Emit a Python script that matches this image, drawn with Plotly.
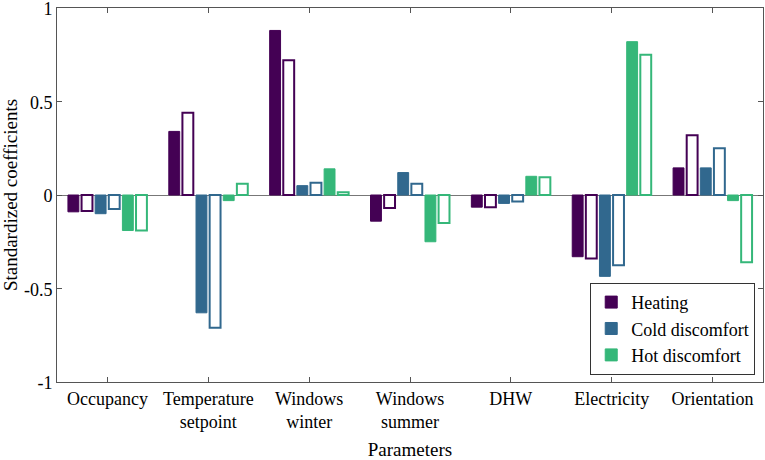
import plotly.graph_objects as go

# Parameters on the x axis
categories = ["Occupancy", "Temperature<br>setpoint", "Windows<br>winter",
              "Windows<br>summer", "DHW", "Electricity", "Orientation"]

# Standardized coefficients (filled = first model, hollow = second model)
heating = [-0.09, 0.34, 0.88, -0.14, -0.065, -0.33, 0.145]
heating_2 = [-0.085, 0.44, 0.72, -0.07, -0.065, -0.34, 0.32]
cold = [-0.10, -0.63, 0.05, 0.12, -0.045, -0.435, 0.145]
cold_2 = [-0.075, -0.71, 0.065, 0.06, -0.035, -0.375, 0.25]
hot = [-0.19, -0.03, 0.14, -0.25, 0.10, 0.82, -0.03]
hot_2 = [-0.19, 0.06, 0.015, -0.15, 0.095, 0.75, -0.36]

purple = '#440154'
blue = '#31688e'
green = '#35b779'

x_pos = list(range(1, len(categories) + 1))

fig = go.Figure()

series = [
    ("Heating", heating, purple, True),
    ("Heating", heating_2, purple, False),
    ("Cold discomfort", cold, blue, True),
    ("Cold discomfort", cold_2, blue, False),
    ("Hot discomfort", hot, green, True),
    ("Hot discomfort", hot_2, green, False),
]

for name, vals, col, filled in series:
    fig.add_trace(go.Bar(
        x=x_pos,
        y=vals,
        name=name,
        showlegend=filled,
        marker=dict(
            color=col if filled else 'white',
            line=dict(color=col, width=1 if filled else 2),
        ),
    ))

serif = "Liberation Serif, Times New Roman, DejaVu Serif, serif"

fig.update_layout(
    width=765,
    height=460,
    barmode='group',
    bargap=0.19,
    bargroupgap=0.2,
    plot_bgcolor='white',
    paper_bgcolor='white',
    # axis titles inherit this one
    font=dict(family=serif, size=16, color='black'),
    margin=dict(l=57, r=2, t=8, b=78),
    xaxis=dict(
        tickvals=x_pos,
        ticktext=categories,
        range=[0.5, 7.5],
        ticks='inside',
        ticklen=5,
        tickcolor='#555555',
        tickfont=dict(family=serif, size=18),
        showline=True,
        linecolor='#555555',
        linewidth=1,
        mirror='ticks',
        showgrid=False,
        zeroline=False,
        automargin=False,
        title=dict(text='Parameters', standoff=26),
    ),
    yaxis=dict(
        range=[-1, 1],
        tickvals=[-1, -0.5, 0, 0.5, 1],
        ticktext=['-1', '-0.5', '0', '0.5', '1'],
        ticks='inside',
        ticklen=5,
        tickcolor='#555555',
        tickfont=dict(family=serif, size=18),
        ticklabeloverflow='allow',
        ticklabelshift=1,
        showline=True,
        linecolor='#555555',
        linewidth=1,
        mirror='ticks',
        showgrid=False,
        zeroline=True,
        zerolinecolor='#777777',
        zerolinewidth=1,
        automargin=False,
        title=dict(text='Standardized coefficients', standoff=4),
    ),
    legend=dict(
        x=0.989,
        y=0.019,
        xanchor='right',
        yanchor='bottom',
        bgcolor='white',
        bordercolor='#333333',
        borderwidth=1,
        font=dict(family=serif, size=18),
        tracegroupgap=0,
        itemwidth=30,
    ),
)

fig.write_html("out.html", config={'displayModeBar': False},
               post_script="document.body.style.margin='0';")
